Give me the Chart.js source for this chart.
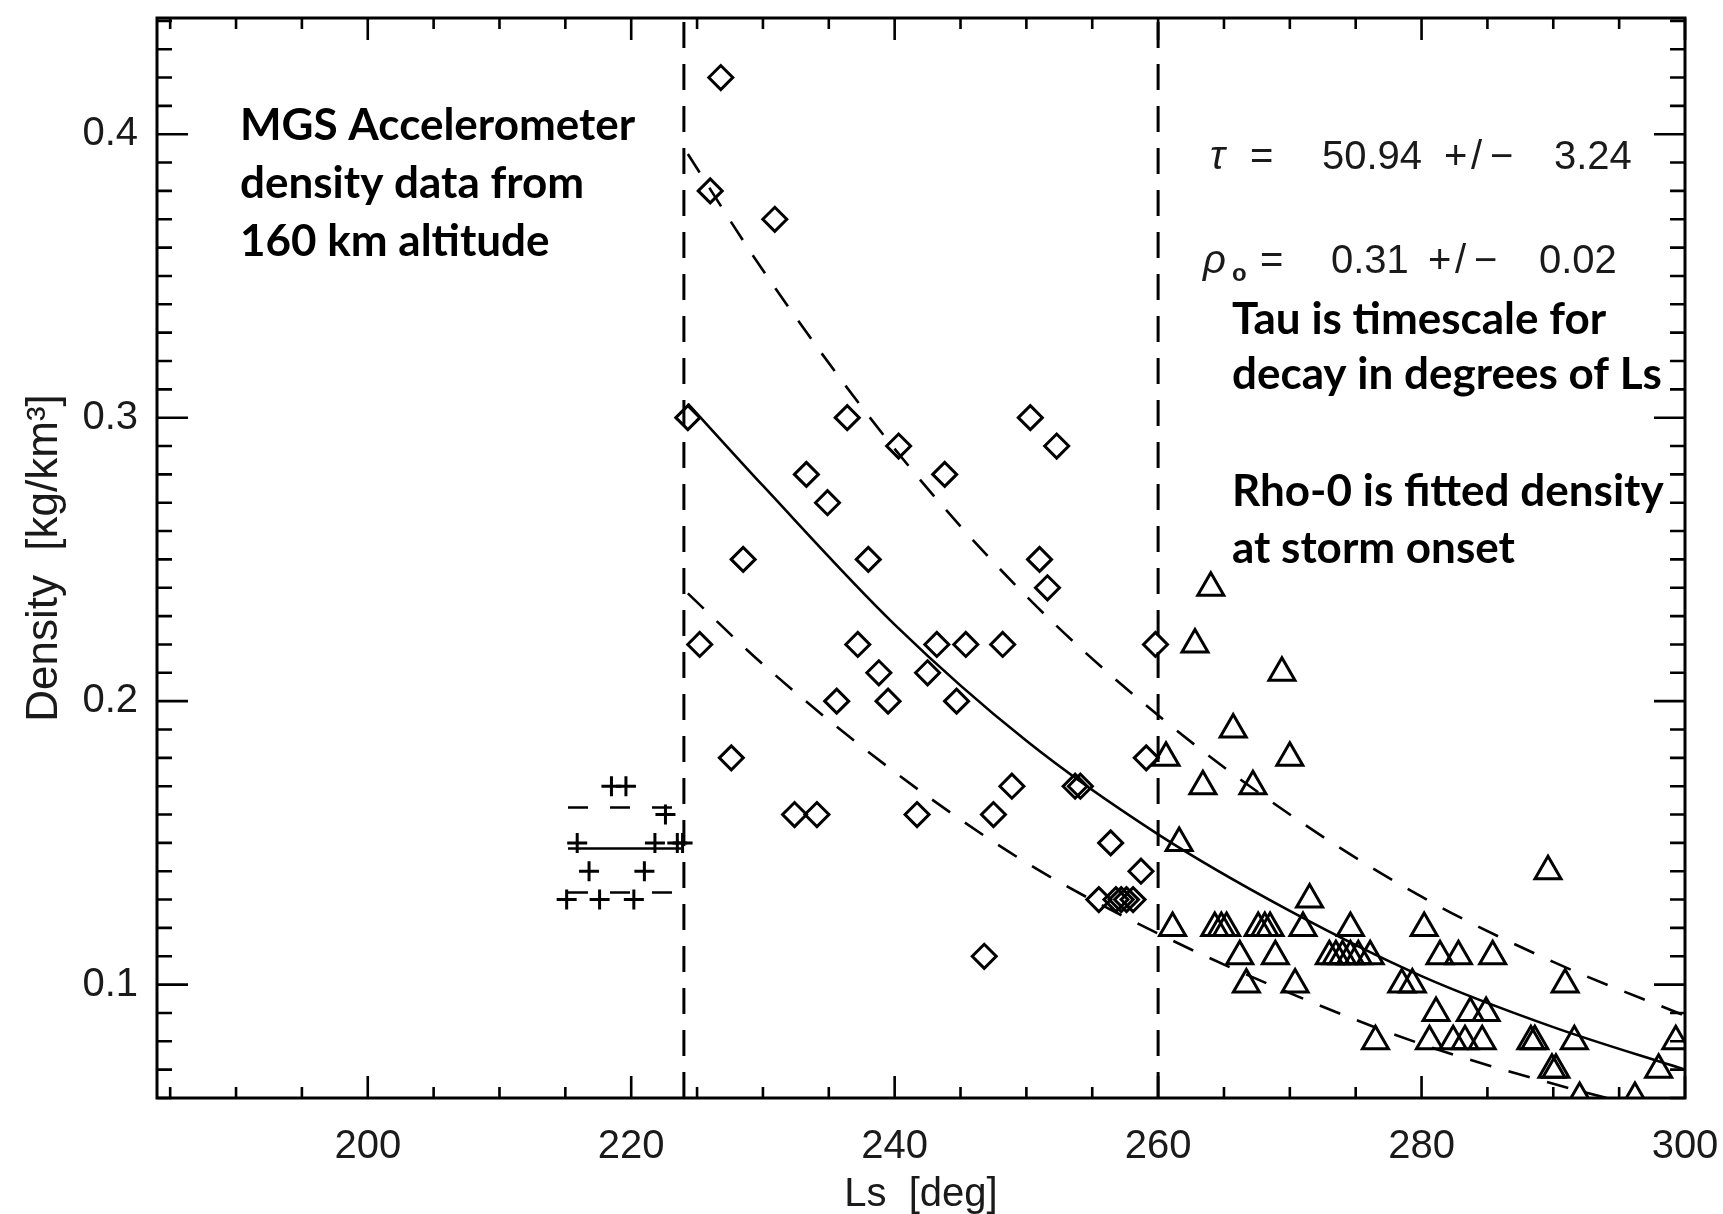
<!DOCTYPE html>
<html>
<head>
<meta charset="utf-8">
<title>MGS Accelerometer density decay</title>
<script src="https://cdn.jsdelivr.net/npm/chart.js@4.4.1/dist/chart.umd.min.js"></script>
<style>
  html, body { margin: 0; padding: 0; background: #fff; }
  canvas { display: block; }
</style>
</head>
<body>
<canvas id="densityChart" width="1723" height="1214"></canvas>
<script>
// --- Axis ranges and tick labels ---
const xRange = [184, 300];
const yRange = [0.06, 0.441];
const xTicks = [200, 220, 240, 260, 280, 300];
const yTicks = [0.1, 0.2, 0.3, 0.4];

// --- Pre-storm points (+) ---
const preLs  = [218.5, 219.6, 222.6, 215.9, 221.8, 223.5, 223.9, 216.8, 221.0, 215.1, 217.6, 220.2];
const preRho = [0.17, 0.17, 0.16, 0.15, 0.15, 0.15, 0.15, 0.14, 0.14, 0.13, 0.13, 0.13];
const preSpan = [215.2, 223.8];
const preMean = [0.148, 0.148];
const preHigh = [0.1625, 0.1625];
const preLow  = [0.1325, 0.1325];

// --- Storm points (diamonds) ---
const stormLs = [226.8, 226.0, 230.9, 224.3, 236.4, 250.3, 240.3, 252.3, 233.3, 243.8,
                 234.9, 228.5, 238.0, 251.0, 251.6, 225.2, 237.2, 243.2, 245.4, 248.2,
                 259.8, 238.8, 242.5, 235.6, 239.5, 244.7, 227.6, 259.1, 248.9, 253.7,
                 254.1, 232.4, 234.1, 241.7, 247.5, 256.4, 258.7, 255.5, 256.8, 257.2,
                 257.6, 258.1, 246.8];
const stormRho = [0.42, 0.38, 0.37, 0.30, 0.30, 0.30, 0.29, 0.29, 0.28, 0.28,
                  0.27, 0.25, 0.25, 0.25, 0.24, 0.22, 0.22, 0.22, 0.22, 0.22,
                  0.22, 0.21, 0.21, 0.20, 0.20, 0.20, 0.18, 0.18, 0.17, 0.17,
                  0.17, 0.16, 0.16, 0.16, 0.16, 0.15, 0.14, 0.13, 0.13, 0.13,
                  0.13, 0.13, 0.11];

// --- Late decay points (triangles) ---
const decayLs = [264.0, 262.8, 269.4, 265.7, 260.6, 270.0, 263.4, 267.2, 261.6, 271.5, 289.6,
                 261.1, 264.3, 264.8, 265.2, 267.6, 268.1, 268.5, 271.0, 274.6, 280.2,
                 266.2, 268.9, 273.0, 273.5, 274.0, 274.6, 275.2, 276.1, 281.4, 282.8, 285.4,
                 266.7, 270.4, 278.5, 279.3, 290.9,
                 281.1, 283.7, 284.9,
                 276.5, 280.6, 282.4, 283.3, 284.6, 288.3, 288.6, 291.6, 299.3,
                 289.9, 290.2, 298.0,
                 292.0, 296.2];
const decayRho = [0.24, 0.22, 0.21, 0.19, 0.18, 0.18, 0.17, 0.17, 0.15, 0.13, 0.14,
                  0.12, 0.12, 0.12, 0.12, 0.12, 0.12, 0.12, 0.12, 0.12, 0.12,
                  0.11, 0.11, 0.11, 0.11, 0.11, 0.11, 0.11, 0.11, 0.11, 0.11, 0.11,
                  0.10, 0.10, 0.10, 0.10, 0.10,
                  0.09, 0.09, 0.09,
                  0.08, 0.08, 0.08, 0.08, 0.08, 0.08, 0.08, 0.08, 0.08,
                  0.07, 0.07, 0.07,
                  0.06, 0.06];

// --- Fitted decay curve and its envelope ---
const fitLs   = [224.3, 230, 240, 250, 260, 270, 280, 290, 300];
const fitRho  = [0.305, 0.276, 0.227, 0.186, 0.153, 0.126, 0.103, 0.085, 0.070];
const fitHigh = [0.393, 0.352, 0.289, 0.237, 0.195, 0.160, 0.131, 0.108, 0.089];
const fitLow  = [0.238, 0.213, 0.175, 0.143, 0.118, 0.097, 0.079, 0.065, 0.053];

// storm window markers
const windowLs = [224, 260];

const pts = (xs, ys) => xs.map((x, i) => ({ x: x, y: ys[i] }));
const vline = v => [{ x: v, y: yRange[0] }, { x: v, y: yRange[1] }];

const INK = '#000';

function lineSet(data, width, dash, extra) {
    return Object.assign({
        type: 'line',
        data: data,
        showLine: true,
        borderColor: INK,
        borderWidth: width,
        borderDash: dash,
        pointRadius: 0,
        fill: false,
        clip: 0
    }, extra || {});
}

function markerSet(data, style, radius, width) {
    return {
        type: 'scatter',
        data: data,
        pointStyle: style,
        pointRadius: radius,
        pointBorderWidth: width,
        borderColor: INK,
        backgroundColor: 'rgba(0,0,0,0)',
        showLine: false,
        clip: 0
    };
}

// --- Frame with IDL-style inward ticks on all four sides ---
const frameTicks = {
    id: 'frameTicks',
    afterDraw(chart) {
        const { ctx, chartArea: a, scales: { x, y } } = chart;
        const majX = 22, minX = 11, majY = 31, minY = 15;
        ctx.save();
        ctx.strokeStyle = INK;
        ctx.lineWidth = 3;
        ctx.strokeRect(a.left, a.top, a.right - a.left, a.bottom - a.top);
        ctx.lineWidth = 2.6;
        ctx.beginPath();
        for (let v = Math.ceil(x.min / 5) * 5; v <= x.max; v += 5) {
            const px = x.getPixelForValue(v);
            const len = v % 20 === 0 ? majX : minX;
            ctx.moveTo(px, a.bottom); ctx.lineTo(px, a.bottom - len);
            ctx.moveTo(px, a.top); ctx.lineTo(px, a.top + len);
        }
        for (let k = Math.ceil(y.min * 100); k <= Math.floor(y.max * 100); k++) {
            const py = y.getPixelForValue(k / 100);
            const len = k % 10 === 0 ? majY : minY;
            ctx.moveTo(a.left, py); ctx.lineTo(a.left + len, py);
            ctx.moveTo(a.right, py); ctx.lineTo(a.right - len, py);
        }
        ctx.stroke();
        ctx.restore();
    }
};

// draw a row of text pieces, each at its own offset from x0
function pieces(ctx, x0, yc, list) {
    list.forEach(p => {
        ctx.font = p[2] || '40px "Liberation Sans"';
        ctx.fillText(p[0], x0 + p[1], yc + (p[3] || 0));
    });
}

// --- Text notes ---
const notes = {
    id: 'notes',
    afterDraw(chart) {
        const { ctx, chartArea: a } = chart;
        ctx.save();
        ctx.fillStyle = INK;
        ctx.textBaseline = 'middle';
        ctx.textAlign = 'left';

        ctx.font = 'bold 44px Lato';
        ['MGS Accelerometer', 'density data from', '160 km altitude']
            .forEach((t, i) => ctx.fillText(t, a.left + 83, a.top + 108 + i * 58));
        ['Tau is timescale for', 'decay in degrees of Ls']
            .forEach((t, i) => ctx.fillText(t, a.left + 1075, a.top + 302 + i * 55));
        ['Rho-0 is fitted density', 'at storm onset']
            .forEach((t, i) => ctx.fillText(t, a.left + 1075, a.top + 474 + i * 57));

        // fit parameters, IDL plot font
        ctx.fillStyle = '#1a1a1a';
        const greek = 'italic 40px "Liberation Sans"';
        pieces(ctx, a.left, a.top + 140, [
            ['\u03C4', 1053, greek], ['=', 1093], ['50.94', 1165],
            ['+', 1287], ['/', 1314], ['\u2212', 1333], ['3.24', 1397]
        ]);
        pieces(ctx, a.left, a.top + 244, [
            ['\u03C1', 1046, greek], ['o', 1075, 'bold 24px "Liberation Sans"', 12],
            ['=', 1103], ['0.31', 1174],
            ['+', 1271], ['/', 1298], ['\u2212', 1317], ['0.02', 1382]
        ]);
        ctx.restore();
    }
};

const tickFont = { family: '"Liberation Sans", Arial, sans-serif', size: 40 };
const yTitleFont = { family: '"Liberation Sans", Arial, sans-serif', size: 44 };

new Chart(document.getElementById('densityChart'), {
    type: 'scatter',
    data: {
        datasets: [
            lineSet(vline(windowLs[0]), 3, [26, 16]),
            lineSet(vline(windowLs[1]), 3, [26, 16]),
            lineSet(pts(preSpan, preMean), 2.5, []),
            lineSet(pts(preSpan, preHigh), 2.5, [20, 22]),
            lineSet(pts(preSpan, preLow), 2.5, [20, 22]),
            lineSet(pts(fitLs, fitRho), 2.6, [], { cubicInterpolationMode: 'monotone' }),
            lineSet(pts(fitLs, fitHigh), 2.6, [22, 18], { cubicInterpolationMode: 'monotone' }),
            lineSet(pts(fitLs, fitLow), 2.6, [22, 18], { cubicInterpolationMode: 'monotone' }),
            markerSet(pts(preLs, preRho), 'cross', 10, 3),
            markerSet(pts(stormLs, stormRho), 'rectRot', 12, 3),
            markerSet(pts(decayLs, decayRho), 'triangle', 15, 3)
        ]
    },
    options: {
        responsive: false,
        devicePixelRatio: 1,
        animation: false,
        events: [],
        layout: { padding: { left: 0, top: 16, right: 38, bottom: 0 } },
        plugins: { legend: { display: false }, tooltip: { enabled: false } },
        scales: {
            x: {
                type: 'linear',
                min: xRange[0],
                max: xRange[1],
                grid: { display: false, drawTicks: false },
                border: { display: false },
                afterBuildTicks: s => { s.ticks = xTicks.map(v => ({ value: v })); },
                afterFit: s => {
                    s.height = 116;
                    s.paddingLeft = 0; s.paddingRight = 0;
                },
                ticks: { color: '#1a1a1a', font: tickFont, padding: 25, maxRotation: 0,
                         callback: v => String(v) },
                title: { display: true, text: 'Ls  [deg]', color: '#1a1a1a', font: tickFont,
                         padding: { top: 0, bottom: -5 } }
            },
            y: {
                type: 'linear',
                min: yRange[0],
                max: yRange[1],
                grid: { display: false, drawTicks: false },
                border: { display: false },
                afterBuildTicks: s => { s.ticks = yTicks.map(v => ({ value: v })); },
                afterFit: s => {
                    s.width = 157;
                    s.paddingTop = 0; s.paddingBottom = 0;
                },
                ticks: { color: '#1a1a1a', font: tickFont, padding: 19,
                         callback: v => v.toFixed(1) },
                title: { display: true, text: 'Density  [kg/km\u00B3]', color: '#1a1a1a', font: yTitleFont,
                         padding: { top: 18, bottom: 0 } }
            }
        }
    },
    plugins: [frameTicks, notes]
});
</script>
</body>
</html>
